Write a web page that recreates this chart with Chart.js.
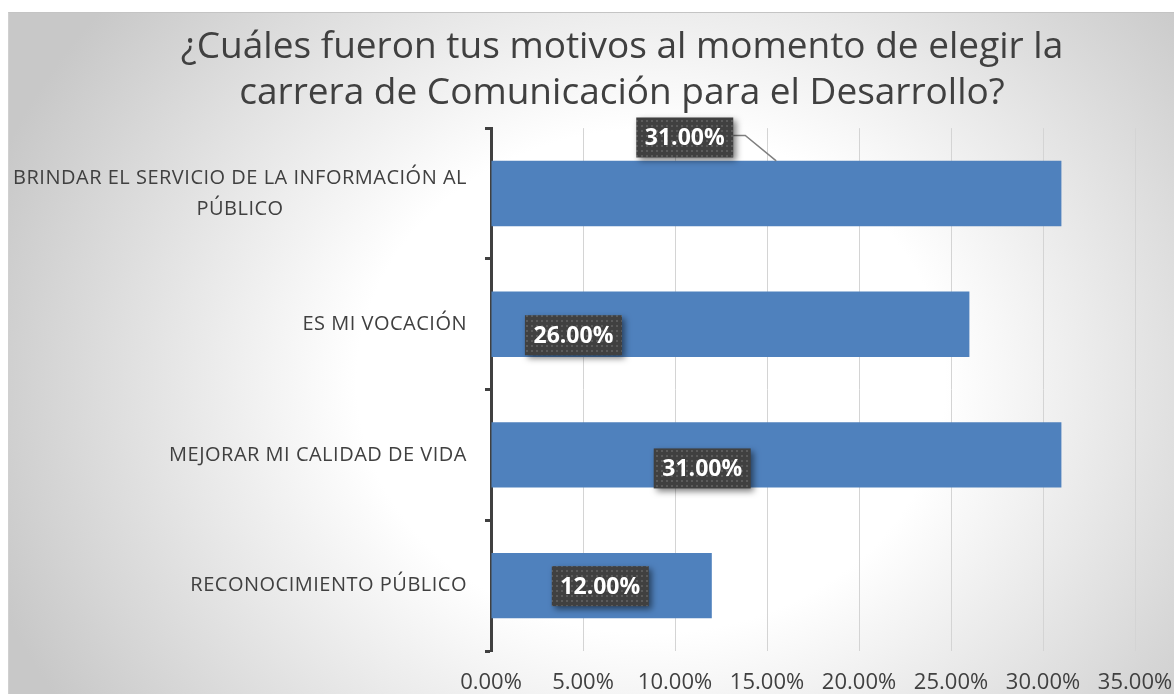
<!DOCTYPE html>
<html>
<head>
<meta charset="utf-8">
<script src="https://cdn.jsdelivr.net/npm/chart.js@4.4.0/dist/chart.umd.min.js"></script>
<style>
    html, body { margin: 0; padding: 0; background: #fff; overflow: hidden; }
    #frame {
        position: absolute; left: 8px; top: 12px; width: 1226px; height: 700px;
        border-top: 1px solid #c4c4c4; border-left: 1px solid #d0d0d0;
        background: radial-gradient(700px 600px at 642px 368px, #ffffff 0%, #ffffff 42%, #c8c8c8 100%);
    }
    #chart { position: absolute; left: 0; top: 0; }
</style>
</head>
<body>
<div id="frame"><canvas id="chart" width="1226" height="700"></canvas></div>
<script>
const titleLines = ['¿Cuáles fueron tus motivos al momento de elegir la', 'carrera de Comunicación para el Desarrollo?'];
const categories = [
    ['BRINDAR EL SERVICIO DE LA INFORMACIÓN AL', 'PÚBLICO'],
    ['ES MI VOCACIÓN'],
    ['MEJORAR MI CALIDAD DE VIDA'],
    ['RECONOCIMIENTO PÚBLICO']
];
const percentValues = [31, 26, 31, 12];
const xTickMax = 35;
const xTickStep = 5;

// where each value box sits: x in % units, y offset from bar centre
const labelAtX = [10.53, 4.48, 11.48, 5.94];
const labelDy = [-56, 11, 13.5, 0.5];
const leaderToX = [15.5, null, null, null];

const FONT = '"Open Sans", "Noto Sans", sans-serif';
const TEXT = '#404040';

function makeDots() {
    const c = document.createElement('canvas');
    c.width = 5; c.height = 5;
    const g = c.getContext('2d');
    g.fillStyle = '#404040';
    g.fillRect(0, 0, 5, 5);
    g.fillStyle = '#5b5b5b';
    g.fillRect(2, 2, 2, 2);
    return c;
}

const categoryLabels = {
    id: 'categoryLabels',
    afterDraw(chart) {
        const ctx = chart.ctx;
        const y = chart.scales.y;
        const right = chart.chartArea.left - 24;
        ctx.save();
        ctx.font = '20px ' + FONT;
        ctx.letterSpacing = '0.5px';
        ctx.fillStyle = TEXT;
        ctx.textBaseline = 'middle';
        ctx.textAlign = 'left';
        categories.forEach((lines, i) => {
            const w = Math.max(...lines.map(l => ctx.measureText(l).width));
            const cx = right - w / 2;
            const cy = y.getPixelForValue(i);
            const lh = 31;
            lines.forEach((l, j) => {
                const lw = ctx.measureText(l).width;
                ctx.fillText(l, cx - lw / 2, cy + (j - (lines.length - 1) / 2) * lh);
            });
        });
        ctx.restore();
    }
};

const valueBoxes = {
    id: 'valueBoxes',
    afterDatasetsDraw(chart) {
        const ctx = chart.ctx;
        const xs = chart.scales.x;
        const meta = chart.getDatasetMeta(0);
        const pattern = ctx.createPattern(makeDots(), 'repeat');
        const bw = 97, bh = 40;
        meta.data.forEach((bar, i) => {
            const cx = xs.getPixelForValue(labelAtX[i]);
            const cy = bar.y + labelDy[i];
            ctx.save();
            if (leaderToX[i] !== null) {
                ctx.strokeStyle = '#7f7f7f';
                ctx.lineWidth = 1.5;
                ctx.beginPath();
                ctx.moveTo(cx + bw / 2, cy - 2);
                ctx.lineTo(cx + bw / 2 + 12, cy - 2);
                ctx.lineTo(xs.getPixelForValue(leaderToX[i]), bar.y - bar.height / 2);
                ctx.stroke();
            }
            ctx.shadowColor = 'rgba(0,0,0,0.5)';
            ctx.shadowBlur = 6;
            ctx.shadowOffsetX = 3;
            ctx.shadowOffsetY = 3;
            ctx.fillStyle = pattern;
            ctx.fillRect(cx - bw / 2, cy - bh / 2, bw, bh);
            ctx.shadowColor = 'transparent';
            ctx.fillStyle = '#ffffff';
            ctx.font = 'bold 23px ' + FONT;
            ctx.textAlign = 'center';
            ctx.textBaseline = 'middle';
            ctx.fillText(percentValues[i].toFixed(2) + '%', cx, cy + 1);
            ctx.restore();
        });
    }
};

new Chart(document.getElementById('chart'), {
    type: 'bar',
    data: {
        labels: categories,
        datasets: [{
            data: percentValues,
            backgroundColor: '#4f81bd',
            categoryPercentage: 1,
            barPercentage: 0.5
        }]
    },
    options: {
        indexAxis: 'y',
        responsive: false,
        animation: false,
        layout: { padding: { left: 100, right: 100, top: 0, bottom: 0 } },
        plugins: {
            legend: { display: false },
            tooltip: { enabled: false },
            title: {
                display: true,
                text: titleLines,
                color: TEXT,
                font: { family: FONT, size: 37, weight: 'normal', lineHeight: 1.245 },
                padding: { top: 11, bottom: 12 }
            }
        },
        scales: {
            x: {
                min: 0,
                max: xTickMax,
                ticks: {
                    stepSize: xTickStep,
                    color: TEXT,
                    font: { family: FONT, size: 22 },
                    padding: 19,
                    callback: v => v.toFixed(2) + '%'
                },
                grid: { color: '#d4d4d4', drawTicks: false },
                border: { display: false },
                afterFit: s => { s.height = 62; }
            },
            y: {
                z: 1,
                ticks: { display: false },
                grid: {
                    drawOnChartArea: false,
                    drawTicks: true,
                    tickLength: 6,
                    tickWidth: 3,
                    tickColor: '#404040',
                    offset: true
                },
                border: { color: '#404040', width: 3 },
                afterFit: s => { s.width = 382; }
            }
        }
    },
    plugins: [categoryLabels, valueBoxes]
});
</script>
</body>
</html>
